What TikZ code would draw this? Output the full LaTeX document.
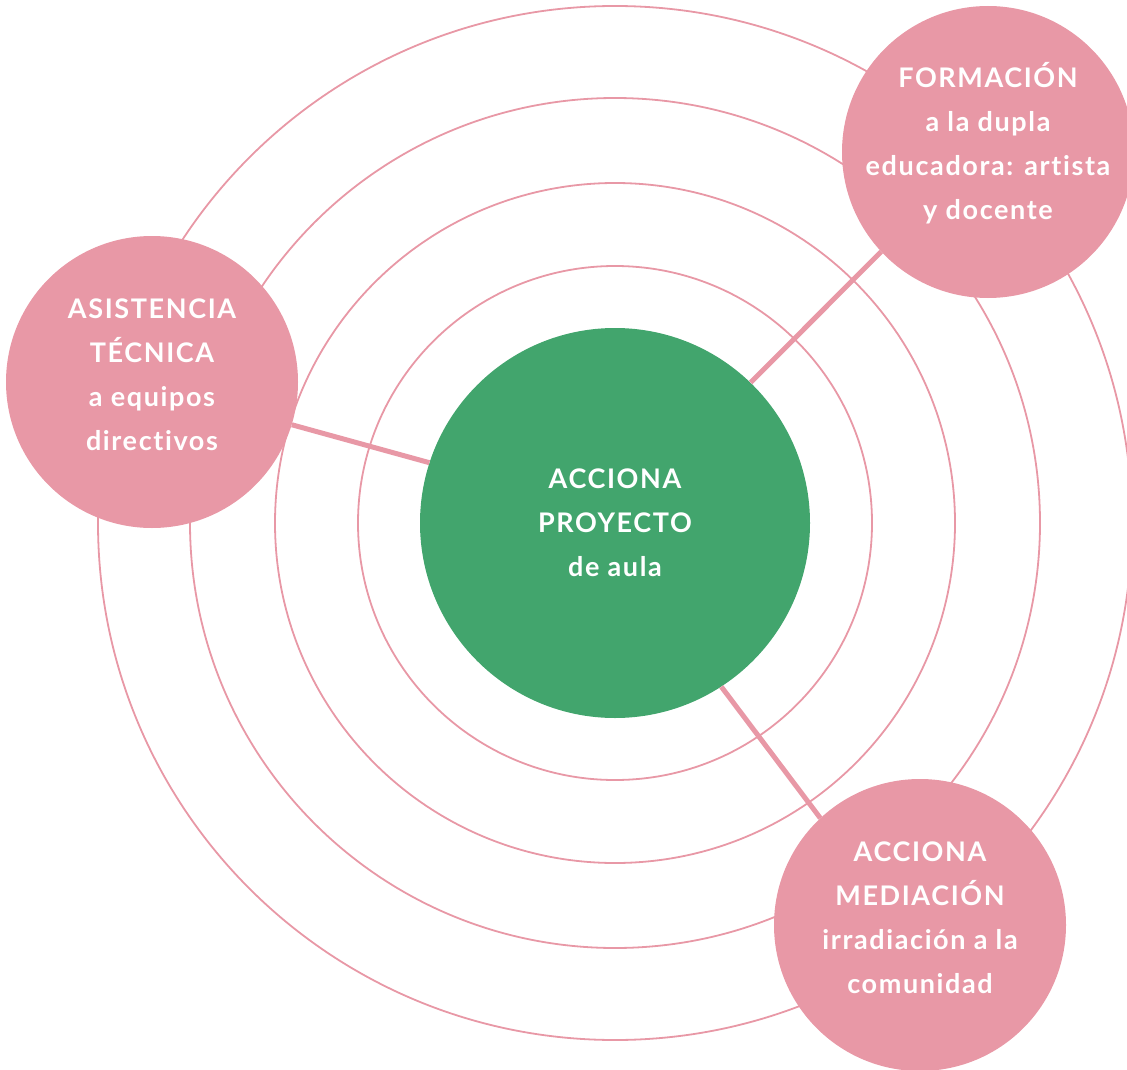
\documentclass[tikz,border=0pt]{standalone}
\usepackage{fontspec}
\setmainfont{Lato}[LetterSpace=6, Ligatures=NoCommon]
\usetikzlibrary{positioning}
\definecolor{rosa}{HTML}{E898A6}
\definecolor{verde}{HTML}{42A56D}
\tikzset{ring/.style={draw=rosa, line width=1.8pt},
  burbuja/.style={circle, fill=rosa, text=white, minimum size=292pt,
    inner sep=-40pt, align=center, text depth=14pt,
    font=\bfseries\fontsize{27}{44}\selectfont},
  enlace/.style={draw=rosa, line width=5pt}}

\begin{document}
\begin{tikzpicture}[x=1pt, y=-1pt]
  \useasboundingbox (0,0) rectangle (1127,1070);
  \clip (0,0) rectangle (1127,1070);
  % anillos
  \foreach \r in {257,340,425,517}
    \draw[ring] (615,523) circle (\r pt);
  \node[burbuja, fill=verde, minimum size=390pt, text depth=0pt] (aula)
    at (615,523) {ACCIONA\\PROYECTO\\de aula};
  \node[burbuja] (asistencia) at (152,382)
    {ASISTENCIA\\TÉCNICA\\a equipos\\directivos};
  \node[burbuja, text depth=22pt] (formacion) at (988,152)
    {FORMACIÓN\\a la dupla\\educadora: artista\\y docente};
  \node[burbuja] (mediacion) at (920,925)
    {ACCIONA\\MEDIACIÓN\\irradiación a la\\comunidad};
  \draw[enlace] (aula.162.6) -- (asistencia.-17.2);
  \draw[enlace] (aula.46) -- (formacion.-137);
  \draw[enlace] (aula.-57.5) -- (mediacion.133);
\end{tikzpicture}
\end{document}
